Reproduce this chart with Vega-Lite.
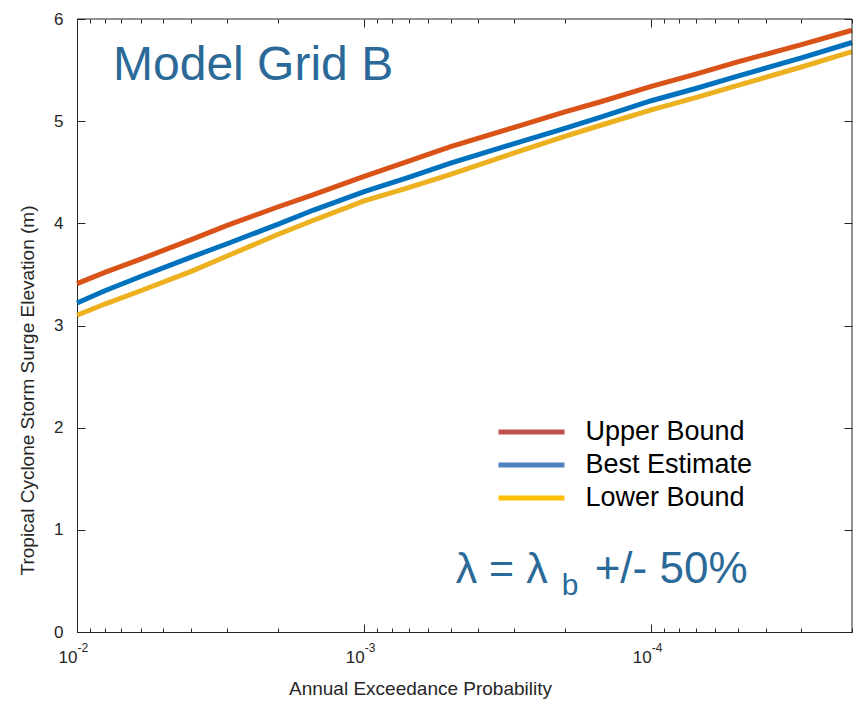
{
  "$schema": "https://vega.github.io/schema/vega-lite/v6.json",
  "autosize": "none",
  "width": 775,
  "height": 613,
  "padding": {"left": 77, "top": 19, "right": 8, "bottom": 69},
  "background": "white",
  "config": {
    "view": {"stroke": null},
    "font": "Liberation Sans",
    "axis": {"grid": false, "domainColor": "#262626", "tickColor": "#262626", "labelColor": "#262626", "titleColor": "#262626", "labelFont": "Liberation Sans", "titleFont": "Liberation Sans", "titleFontWeight": "normal", "domainWidth": 1, "tickWidth": 1}
  },
  "datasets": {
    "surge": [
      {"p": 0.01, "series": "Upper Bound", "surge": 3.41},
      {"p": 0.008, "series": "Upper Bound", "surge": 3.52},
      {"p": 0.006, "series": "Upper Bound", "surge": 3.65},
      {"p": 0.004, "series": "Upper Bound", "surge": 3.84},
      {"p": 0.003, "series": "Upper Bound", "surge": 3.98},
      {"p": 0.002, "series": "Upper Bound", "surge": 4.16},
      {"p": 0.0015, "series": "Upper Bound", "surge": 4.28},
      {"p": 0.001, "series": "Upper Bound", "surge": 4.46},
      {"p": 0.0007, "series": "Upper Bound", "surge": 4.61},
      {"p": 0.0005, "series": "Upper Bound", "surge": 4.75},
      {"p": 0.0003, "series": "Upper Bound", "surge": 4.94},
      {"p": 0.0002, "series": "Upper Bound", "surge": 5.09},
      {"p": 0.00015, "series": "Upper Bound", "surge": 5.19},
      {"p": 0.0001, "series": "Upper Bound", "surge": 5.34},
      {"p": 0.00007, "series": "Upper Bound", "surge": 5.46},
      {"p": 0.00005, "series": "Upper Bound", "surge": 5.58},
      {"p": 0.00003, "series": "Upper Bound", "surge": 5.75},
      {"p": 0.00002, "series": "Upper Bound", "surge": 5.89},
      {"p": 0.01, "series": "Best Estimate", "surge": 3.22},
      {"p": 0.008, "series": "Best Estimate", "surge": 3.34},
      {"p": 0.006, "series": "Best Estimate", "surge": 3.48},
      {"p": 0.004, "series": "Best Estimate", "surge": 3.67},
      {"p": 0.003, "series": "Best Estimate", "surge": 3.80},
      {"p": 0.002, "series": "Best Estimate", "surge": 3.99},
      {"p": 0.0015, "series": "Best Estimate", "surge": 4.13},
      {"p": 0.001, "series": "Best Estimate", "surge": 4.31},
      {"p": 0.0007, "series": "Best Estimate", "surge": 4.45},
      {"p": 0.0005, "series": "Best Estimate", "surge": 4.59},
      {"p": 0.0003, "series": "Best Estimate", "surge": 4.78},
      {"p": 0.0002, "series": "Best Estimate", "surge": 4.93},
      {"p": 0.00015, "series": "Best Estimate", "surge": 5.04},
      {"p": 0.0001, "series": "Best Estimate", "surge": 5.20},
      {"p": 0.00007, "series": "Best Estimate", "surge": 5.32},
      {"p": 0.00005, "series": "Best Estimate", "surge": 5.44},
      {"p": 0.00003, "series": "Best Estimate", "surge": 5.62},
      {"p": 0.00002, "series": "Best Estimate", "surge": 5.77},
      {"p": 0.01, "series": "Lower Bound", "surge": 3.10},
      {"p": 0.008, "series": "Lower Bound", "surge": 3.21},
      {"p": 0.006, "series": "Lower Bound", "surge": 3.34},
      {"p": 0.004, "series": "Lower Bound", "surge": 3.53},
      {"p": 0.003, "series": "Lower Bound", "surge": 3.68},
      {"p": 0.002, "series": "Lower Bound", "surge": 3.89},
      {"p": 0.0015, "series": "Lower Bound", "surge": 4.03},
      {"p": 0.001, "series": "Lower Bound", "surge": 4.22},
      {"p": 0.0007, "series": "Lower Bound", "surge": 4.35},
      {"p": 0.0005, "series": "Lower Bound", "surge": 4.48},
      {"p": 0.0003, "series": "Lower Bound", "surge": 4.69},
      {"p": 0.0002, "series": "Lower Bound", "surge": 4.85},
      {"p": 0.00015, "series": "Lower Bound", "surge": 4.96},
      {"p": 0.0001, "series": "Lower Bound", "surge": 5.11},
      {"p": 0.00007, "series": "Lower Bound", "surge": 5.23},
      {"p": 0.00005, "series": "Lower Bound", "surge": 5.35},
      {"p": 0.00003, "series": "Lower Bound", "surge": 5.53},
      {"p": 0.00002, "series": "Lower Bound", "surge": 5.68}
    ],
    "single": [{}]
  },
  "resolve": {"axis": {"x": "independent", "y": "independent"}, "scale": {"color": "independent", "stroke": "independent"}, "legend": {"color": "independent", "stroke": "independent"}},
  "layer": [
    {
      "data": {"name": "surge"},
      "mark": {"type": "line", "strokeWidth": 5},
      "encoding": {
        "x": {
          "field": "p", "type": "quantitative",
          "scale": {"type": "log", "domain": [0.00002, 0.01], "reverse": true, "nice": false},
          "axis": {
            "orient": "bottom",
            "values": [0.01, 0.001, 0.0001],
            "labelExpr": "'10'",
            "labelFontSize": 17, "labelAlign": "right", "labelDx": -4, "labelBaseline": "top", "labelPadding": 25,
            "labelFlush": false, "labelOverlap": false, "labelBound": false,
            "tickSize": -8,
            "title": "Annual Exceedance Probability", "titleFontSize": 19,
            "titleX": 343, "titleY": 47, "titleAlign": "center", "titleBaseline": "top"
          }
        },
        "y": {
          "field": "surge", "type": "quantitative",
          "scale": {"domain": [0, 6], "nice": false, "zero": true},
          "axis": {
            "orient": "left",
            "values": [0, 1, 2, 3, 4, 5, 6],
            "labelFontSize": 17, "labelPadding": 22, "labelDy": -4, "labelBaseline": "middle",
            "tickSize": -8,
            "title": "Tropical Cyclone Storm Surge Elevation (m)", "titleFontSize": 19,
            "titleX": -50, "titleY": 371, "titleAlign": "center", "titleBaseline": "middle", "titleAngle": -90
          }
        },
        "color": {
          "field": "series", "type": "nominal",
          "scale": {"domain": ["Upper Bound", "Best Estimate", "Lower Bound"], "range": ["#D95319", "#0072BD", "#EDB120"]},
          "legend": null
        }
      }
    },
    {
      "data": {"name": "single"},
      "mark": {"type": "rule", "color": "#262626", "strokeWidth": 1},
      "encoding": {
        "x": {"datum": 0.01, "type": "quantitative", "axis": null},
        "x2": {"datum": 0.00002},
        "y": {"datum": 6, "type": "quantitative", "axis": null}
      }
    },
    {
      "data": {"name": "single"},
      "mark": {"type": "rule", "color": "#262626", "strokeWidth": 1},
      "encoding": {
        "x": {"datum": 0.00002, "type": "quantitative", "axis": null},
        "y": {"datum": 0, "type": "quantitative", "axis": null},
        "y2": {"datum": 6}
      }
    },
    {
      "data": {"name": "single"},
      "mark": {"type": "text", "text": "Model Grid B", "fontSize": 48, "align": "left", "baseline": "alphabetic", "color": "#2B6A98", "font": "Liberation Sans"},
      "encoding": {
        "x": {
          "datum": 0.00749, "type": "quantitative",
          "axis": {
            "orient": "bottom",
            "values": [0.01, 0.001, 0.0001],
            "labelExpr": "datum.value > 0.005 ? '-2' : datum.value > 0.0005 ? '-3' : '-4'",
            "labelFontSize": 12, "labelAlign": "left", "labelDx": 6, "labelBaseline": "top", "labelPadding": 10,
            "labelFlush": false, "labelOverlap": false, "labelBound": false,
            "ticks": false, "domain": false, "title": null
          }
        },
        "y": {
          "datum": 5.40, "type": "quantitative",
          "axis": {
            "orient": "right",
            "values": [0, 1, 2, 3, 4, 5, 6],
            "labels": false, "domain": false, "tickSize": -8,
            "title": null
          }
        }
      }
    },
    {
      "data": {"name": "single"},
      "mark": {"type": "text", "text": "λ = λ", "fontSize": 43, "align": "left", "baseline": "alphabetic", "color": "#2B6A98", "font": "Liberation Sans"},
      "encoding": {
        "x": {
          "datum": 0.00048, "type": "quantitative",
          "axis": {
            "orient": "top",
            "values": [0.01, 0.001, 0.0001],
            "labels": false, "domain": false, "tickSize": -8,
            "title": null
          }
        },
        "y": {"datum": 0.477, "type": "quantitative", "axis": null}
      }
    },
    {
      "data": {"name": "single"},
      "mark": {"type": "text", "text": "b", "fontSize": 30, "align": "left", "baseline": "alphabetic", "dx": 106, "dy": 12, "color": "#2B6A98", "font": "Liberation Sans"},
      "encoding": {
        "x": {
          "datum": 0.00048, "type": "quantitative",
          "axis": {
            "orient": "bottom",
            "values": [0.009, 0.008, 0.007, 0.006, 0.005, 0.004, 0.003, 0.002, 0.0009, 0.0008, 0.0007, 0.0006, 0.0005, 0.0004, 0.0003, 0.0002, 0.00009, 0.00008, 0.00007, 0.00006, 0.00005, 0.00004, 0.00003, 0.00002],
            "labels": false, "domain": false, "tickSize": -4,
            "title": null
          }
        },
        "y": {"datum": 0.477, "type": "quantitative", "axis": null}
      }
    },
    {
      "data": {"name": "single"},
      "mark": {"type": "text", "text": "+/- 50%", "fontSize": 44, "align": "left", "baseline": "alphabetic", "dx": 139, "color": "#2B6A98", "font": "Liberation Sans"},
      "encoding": {
        "x": {
          "datum": 0.00048, "type": "quantitative",
          "axis": {
            "orient": "top",
            "values": [0.009, 0.008, 0.007, 0.006, 0.005, 0.004, 0.003, 0.002, 0.0009, 0.0008, 0.0007, 0.0006, 0.0005, 0.0004, 0.0003, 0.0002, 0.00009, 0.00008, 0.00007, 0.00006, 0.00005, 0.00004, 0.00003, 0.00002],
            "labels": false, "domain": false, "tickSize": -4,
            "title": null
          }
        },
        "y": {"datum": 0.477, "type": "quantitative", "axis": null}
      }
    },
    {
      "data": {"name": "surge"},
      "transform": [{"filter": "false"}],
      "mark": {"type": "point", "opacity": 1, "filled": false},
      "encoding": {
        "stroke": {
          "field": "series", "type": "nominal",
          "scale": {"domain": ["Upper Bound", "Best Estimate", "Lower Bound"], "range": ["#C0504D", "#4F81BD", "#FFC000"]},
          "legend": {
            "orient": "none", "legendX": 435.5, "legendY": 394, "title": null, "padding": 0,
            "symbolType": "M-2,0L2,0", "symbolSize": 1089, "symbolStrokeWidth": 5, "symbolOpacity": 1,
            "labelFontSize": 27, "labelFont": "Liberation Sans", "labelColor": "#000000", "labelOffset": 35, "labelLimit": 0,
            "rowPadding": 1
          }
        }
      }
    }
  ]
}
